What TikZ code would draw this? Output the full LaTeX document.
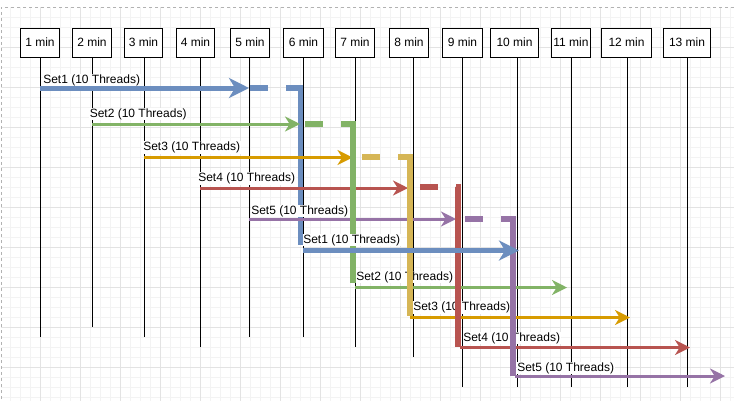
\documentclass[tikz,border=0pt]{standalone}
\usepackage{fontspec}
\setmainfont{Liberation Sans}
\usetikzlibrary{arrows.meta}
\definecolor{cblue}{HTML}{6C8EBF}
\definecolor{cgreen}{HTML}{82B366}
\definecolor{corange}{HTML}{D79B00}
\definecolor{cgold}{HTML}{D6B656}
\definecolor{cred}{HTML}{B85450}
\definecolor{cpurple}{HTML}{9673A6}
\definecolor{gminor}{HTML}{F3F3F3}
\definecolor{gmajor}{HTML}{E3E3E3}
\begin{document}
\begin{tikzpicture}[x=0.75pt,y=-0.75pt,
 box/.style={draw=black, line width=0.75pt, fill=white, minimum height=21.75pt, inner sep=0pt, font=\fontsize{9}{10}\selectfont},
 life/.style={draw=black, line width=0.75pt},
 lbl/.style={fill=white, inner sep=0.4pt, anchor=base west, font=\fontsize{9}{10}\selectfont},
 thinarrow/.style={line width=2.25pt, -{Stealth[length=11.25pt,width=11.25pt,inset=3.5pt]}},
 thickarrow/.style={line width=3.75pt, -{Stealth[length=15pt,width=15pt,inset=4.5pt]}},
 hookline/.style={line width=4pt, dash pattern=on 13.5pt off 13.5pt on 300pt, miter limit=10},
]
\useasboundingbox (0,0) rectangle (734,401);
\fill[white] (0,0) rectangle (734,401);
% grid
\foreach \x in {10,20,...,730} \draw[gminor, line width=0.75pt] (\x,7) -- (\x,401);
\foreach \y in {17,27,...,397} \draw[gminor, line width=0.75pt] (1,\y) -- (734,\y);
\foreach \x in {40,80,...,720} \draw[gmajor, line width=0.75pt] (\x,7) -- (\x,401);
\foreach \y in {47,87,...,367} \draw[gmajor, line width=0.75pt] (1,\y) -- (734,\y);
\draw[black!30, line width=0.75pt, dash pattern=on 2.25pt off 2.25pt] (734,7) -- (1,7) -- (1,401);

% time boxes
\node[box, minimum width=29.5pt]  (b1)  at (40,42.5)    {1 min};
\node[box, minimum width=29.5pt]  (b2)  at (92,42.5)    {2 min};
\node[box, minimum width=28.75pt] (b3)  at (143.5,42.5) {3 min};
\node[box, minimum width=28.75pt] (b4)  at (195.5,42.5) {4 min};
\node[box, minimum width=29.5pt]  (b5)  at (250,42.5)   {5 min};
\node[box, minimum width=30.25pt] (b6)  at (303.5,42.5) {6 min};
\node[box, minimum width=29.5pt]  (b7)  at (355,42.5)   {7 min};
\node[box, minimum width=29.5pt]  (b8)  at (409,42.5)   {8 min};
\node[box, minimum width=30.25pt] (b9)  at (462.5,42.5) {9 min};
\node[box, minimum width=36pt]    (b10) at (514.5,42.5) {10 min};
\node[box, minimum width=29.5pt]  (b11) at (571,42.5)   {11 min};
\node[box, minimum width=37.5pt]  (b12) at (626.5,42.5) {12 min};
\node[box, minimum width=35.25pt] (b13) at (687,42.5)   {13 min};

% lifeline ends
\coordinate (l1) at (40,337);
\coordinate (l2) at (92,327);
\coordinate (l3) at (144,337);
\coordinate (l4) at (200,347);
\coordinate (l5) at (249,337);
\coordinate (l6) at (303,337);
\coordinate (l7) at (355,347);
\coordinate (l8) at (413,357);
\coordinate (l9) at (462,387);
\coordinate (l10) at (517,387);
\coordinate (l11) at (571,387);
\coordinate (l12) at (627,387);
\coordinate (l13) at (687,387);
\foreach \i in {1,...,13} \draw[life] (b\i.south -| l\i) -- (l\i);

% arrow end points
\coordinate (u1s) at (40,88);    \coordinate (u1e) at (249,88);
\coordinate (u2s) at (92,124);   \coordinate (u2e) at (300,124);
\coordinate (u3s) at (144,157.5);\coordinate (u3e) at (352.5,157.5);
\coordinate (u4s) at (200,188);  \coordinate (u4e) at (408,188);
\coordinate (u5s) at (249,219);  \coordinate (u5e) at (456,219);
\coordinate (d1s) at (303,250.5);\coordinate (d1e) at (519,250.5);
\coordinate (d2s) at (355,287.5);\coordinate (d2e) at (567,287.5);
\coordinate (d3s) at (410,317.5);\coordinate (d3e) at (630,317.5);
\coordinate (d4s) at (460,347.5);\coordinate (d4e) at (690,347.5);
\coordinate (d5s) at (515,376);  \coordinate (d5e) at (725,376);
% hooks
\coordinate (h1s) at (250,88);  \coordinate (h1c) at (300.5,88);  \coordinate (h1e) at (300.5,245);
\coordinate (h2s) at (305,124); \coordinate (h2c) at (353,124);   \coordinate (h2e) at (353,283);
\coordinate (h3s) at (362,157); \coordinate (h3c) at (410,157);   \coordinate (h3e) at (410,316);
\coordinate (h4s) at (420,187); \coordinate (h4c) at (458,187);   \coordinate (h4e) at (458,347);
\coordinate (h5s) at (465,219); \coordinate (h5c) at (513,219);   \coordinate (h5e) at (513,376);

\draw[hookline, cblue] (h1s) -- (h1c) -- (h1e);

% first runs
\draw[thickarrow, cblue] (u1s) -- (u1e);
\node[lbl] (t1) at (42.5,83) {Set1 (10 Threads)};
\draw[thinarrow, cgreen] (u2s) -- (u2e);
\node[lbl] (t2) at (89,117) {Set2 (10 Threads)};
\draw[thinarrow, corange] (u3s) -- (u3e);
\node[lbl] (t3) at (142.5,150.7) {Set3 (10 Threads)};
\draw[thinarrow, cred] (u4s) -- (u4e);
\node[lbl] (t4) at (197.5,181.5) {Set4 (10 Threads)};
\draw[thinarrow, cpurple] (u5s) -- (u5e);
\node[lbl] (t5) at (250.5,214) {Set5 (10 Threads)};

\draw[hookline, cgreen] (h2s) -- (h2c) -- (h2e);
\draw[thinarrow, cgreen] (d2s) -- (d2e);
\node[lbl] (r2) at (355.5,280) {Set2 (10 Threads)};
\draw[hookline, cgold] (h3s) -- (h3c) -- (h3e);
\draw[thinarrow, corange] (d3s) -- (d3e);
\node[lbl] (r3) at (412.5,310.7) {Set3 (10 Threads)};
\draw[hookline, cred] (h4s) -- (h4c) -- (h4e);
\draw[thinarrow, cred] (d4s) -- (d4e);
\node[lbl] (r4) at (462.5,341) {Set4 (10 Threads)};
\draw[hookline, cpurple] (h5s) -- (h5c) -- (h5e);
\draw[thickarrow, cblue] (d1s) -- (d1e);
\node[lbl] (r1) at (302.5,243.3) {Set1 (10 Threads)};
\draw[thinarrow, cpurple] (d5s) -- (d5e);
\node[lbl] (r5) at (516.5,371) {Set5 (10 Threads)};
\end{tikzpicture}
\end{document}
